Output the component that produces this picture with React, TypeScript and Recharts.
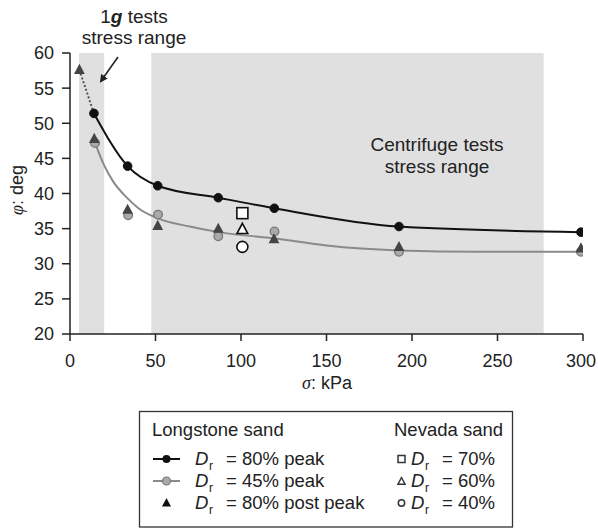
import React from "react";
import { ComposedChart, Line, Scatter, XAxis, YAxis, ReferenceArea } from "recharts";

// Longstone sand, Dr = 80% peak (fitted curve through the points)
const peak80X = [14, 33.7, 51.3, 86.7, 119.5, 192.4, 298.8];
const peak80Y = [51.4, 43.9, 41.1, 39.4, 37.9, 35.3, 34.5];

// Longstone sand, Dr = 45% peak (points + fit curve)
const peak45X = [14.6, 34, 51.5, 86.7, 119.6, 192.4, 298.8];
const peak45Y = [47.2, 36.9, 37.0, 33.9, 34.6, 31.7, 31.7];
const fit45X = [14.6, 20, 25, 33.7, 40, 51, 70, 87, 120, 150, 192, 240, 299];
const fit45Y = [47.2, 44.0, 41.8, 39.3, 37.9, 36.5, 35.3, 34.5, 33.6, 32.6, 31.9, 31.7, 31.7];

// Longstone sand, Dr = 80% post peak
const postX = [5.5, 14.2, 33.7, 51.3, 86.7, 119.3, 192.4, 298.8];
const postY = [57.6, 47.8, 37.7, 35.4, 35.0, 33.5, 32.4, 32.2];

// Nevada sand
const nev70 = [{ x: 100.8, y: 37.2 }];
const nev60 = [{ x: 100.8, y: 34.9 }];
const nev40 = [{ x: 100.8, y: 32.4 }];

// stress ranges
const range1g = [5.3, 20];
const rangeCentrifuge = [47.5, 277];

const xTicks = [0, 50, 100, 150, 200, 250, 300];
const yTicks = [20, 25, 30, 35, 40, 45, 50, 55, 60];

const zip = (xs: number[], ys: number[]) => xs.map((x, i) => ({ x, y: ys[i] }));
const peak80 = zip(peak80X, peak80Y);
const peak45 = zip(peak45X, peak45Y);
const fit45 = zip(fit45X, fit45Y);
const post = zip(postX, postY);
const dotted = [post[0], peak80[0]];

const FONT = "'Liberation Sans', Arial, sans-serif";
const SERIF = "'Liberation Serif', 'Times New Roman', serif";

const triangle = (cx: number, cy: number, s: number) =>
  `M${cx},${cy - s} L${cx + s * 0.9},${cy + s * 0.7} L${cx - s * 0.9},${cy + s * 0.7} Z`;

const GrayCircle = (p: any) => <circle cx={p.cx} cy={p.cy} r={4.3} fill="#aaa" stroke="#777" strokeWidth={1.3} />;
const PostTri = (p: any) => <path d={triangle(p.cx, p.cy, 6)} fill="#444" />;
const OpenSquare = (p: any) => (
  <rect x={p.cx - 5.5} y={p.cy - 5.5} width={11} height={11} fill="#fff" stroke="#111" strokeWidth={1.6} />
);
const OpenTri = (p: any) => <path d={triangle(p.cx, p.cy, 6)} fill="#fff" stroke="#111" strokeWidth={1.6} />;
const OpenCircle = (p: any) => <circle cx={p.cx} cy={p.cy} r={5.5} fill="#fff" stroke="#111" strokeWidth={1.6} />;

const XTick = (p: any) => {
  const v = p.payload.value;
  return (
    <text x={v === 300 ? p.x - 2 : p.x} y={p.y} dy="0.71em" textAnchor="middle" fontSize={18} fill="#222" fontFamily={FONT}>
      {v}
    </text>
  );
};

// legend label "Dr = ..." with subscript r
function Dr({ x, y, rest }: { x: number; y: number; rest: string }) {
  return (
    <text y={y} fontSize={18.5} fill="#222" fontFamily={FONT}>
      <tspan x={x} fontStyle="italic">D</tspan>
      <tspan x={x + 14} fontSize={12} dy={5}>r</tspan>
      <tspan x={x + 31} dy={-5}>=</tspan>
      <tspan x={x + 47}>{rest}</tspan>
    </text>
  );
}

export default function App() {
  return (
    <div
      style={{
        position: "fixed",
        left: 0,
        top: 0,
        width: 598,
        height: 529,
        overflow: "hidden",
        background: "#fff",
        fontFamily: FONT,
      }}
    >
      <ComposedChart width={598} height={400} margin={{ top: 53, right: 15, bottom: 16, left: 0 }}>
        <XAxis
          type="number"
          dataKey="x"
          domain={[0, 300]}
          ticks={xTicks}
          tickSize={7}
          tickMargin={13}
          stroke="#222"
          strokeWidth={1.5}
          tick={XTick}
          height={50}
          allowDataOverflow
        />
        <YAxis
          type="number"
          dataKey="y"
          domain={[20, 60]}
          ticks={yTicks}
          tickSize={8}
          tickMargin={8}
          stroke="#222"
          strokeWidth={1.5}
          tick={{ fill: "#222", fontSize: 18, fontFamily: FONT }}
          width={70}
          allowDataOverflow
        />
        <ReferenceArea x1={range1g[0]} x2={range1g[1]} y1={20} y2={60} fill="#e0e0e0" fillOpacity={1} stroke="none" />
        <ReferenceArea x1={rangeCentrifuge[0]} x2={rangeCentrifuge[1]} y1={20} y2={60} fill="#e0e0e0" fillOpacity={1} stroke="none" />
        <Line data={dotted} dataKey="y" type="linear" stroke="#555" strokeWidth={2} strokeDasharray="2 2" dot={false} isAnimationActive={false} />
        <Line data={fit45} dataKey="y" type="monotone" stroke="#8a8a8a" strokeWidth={2} dot={false} isAnimationActive={false} />
        <Scatter data={peak45} dataKey="y" shape={GrayCircle} isAnimationActive={false} />
        <Scatter data={post} dataKey="y" shape={PostTri} isAnimationActive={false} />
        <Line
          data={peak80}
          dataKey="y"
          type="monotone"
          stroke="#111"
          strokeWidth={2}
          dot={{ r: 4.3, fill: "#111", stroke: "#111", strokeWidth: 1 }}
          isAnimationActive={false}
        />
        <Scatter data={nev70} dataKey="y" shape={OpenSquare} isAnimationActive={false} />
        <Scatter data={nev60} dataKey="y" shape={OpenTri} isAnimationActive={false} />
        <Scatter data={nev40} dataKey="y" shape={OpenCircle} isAnimationActive={false} />
      </ComposedChart>

      <svg width={598} height={529} style={{ position: "absolute", left: 0, top: 0, pointerEvents: "none" }}>
        <defs>
          <marker id="ah" markerWidth={8} markerHeight={8} refX={6} refY={4} orient="auto" markerUnits="userSpaceOnUse">
            <path d="M0,0 L8,4 L0,8 Z" fill="#222" />
          </marker>
        </defs>
        <text x={134} y={23} textAnchor="middle" fontSize={19} fill="#222" fontFamily={FONT}>
          1<tspan fontWeight="bold" fontStyle="italic">g</tspan> tests
        </text>
        <text x={134} y={44} textAnchor="middle" fontSize={19} fill="#222" fontFamily={FONT}>
          stress range
        </text>
        <line x1={118} y1={57} x2={101} y2={81} stroke="#222" strokeWidth={1.6} markerEnd="url(#ah)" />
        <text x={437} y={151} textAnchor="middle" fontSize={19} fill="#222" fontFamily={FONT}>
          Centrifuge tests
        </text>
        <text x={437} y={173} textAnchor="middle" fontSize={19} fill="#222" fontFamily={FONT}>
          stress range
        </text>
        <text x={17} y={190} transform="rotate(-90 17 190)" textAnchor="middle" dominantBaseline="central" fontSize={18} fill="#222">
          <tspan fontStyle="italic" fontFamily={SERIF}>φ</tspan>
          <tspan fontFamily={FONT}>: deg</tspan>
        </text>
        <text x={327} y={389} textAnchor="middle" fontSize={18} fill="#222">
          <tspan fontStyle="italic" fontFamily={SERIF}>σ</tspan>
          <tspan fontFamily={FONT}>: kPa</tspan>
        </text>

        {/* legend */}
        <rect x={139.5} y={411.5} width={373} height={115.5} fill="#fff" stroke="#333" strokeWidth={1.3} />
        <text x={152} y={436} fontSize={18.5} fill="#222" fontFamily={FONT}>Longstone sand</text>
        <text x={394} y={436} fontSize={18.5} fill="#222" fontFamily={FONT}>Nevada sand</text>

        <line x1={153} y1={459} x2={180} y2={459} stroke="#111" strokeWidth={2} />
        <circle cx={166.5} cy={459} r={4} fill="#111" />
        <Dr x={195} y={465} rest="80% peak" />

        <line x1={153} y1={481} x2={180} y2={481} stroke="#8a8a8a" strokeWidth={2} />
        <circle cx={166.5} cy={481} r={4} fill="#aaa" stroke="#777" strokeWidth={1.2} />
        <Dr x={195} y={487} rest="45% peak" />

        <path d={triangle(166.5, 503, 5)} fill="#111" />
        <Dr x={195} y={509} rest="80% post peak" />

        <rect x={398} y={455.5} width={7} height={7} fill="#fff" stroke="#333" strokeWidth={1.5} />
        <Dr x={411} y={465} rest="70%" />
        <path d={triangle(401.5, 481.5, 4)} fill="#fff" stroke="#333" strokeWidth={1.4} />
        <Dr x={411} y={487} rest="60%" />
        <circle cx={401.5} cy={503} r={3.2} fill="#fff" stroke="#333" strokeWidth={1.5} />
        <Dr x={411} y={509} rest="40%" />
      </svg>
    </div>
  );
}
